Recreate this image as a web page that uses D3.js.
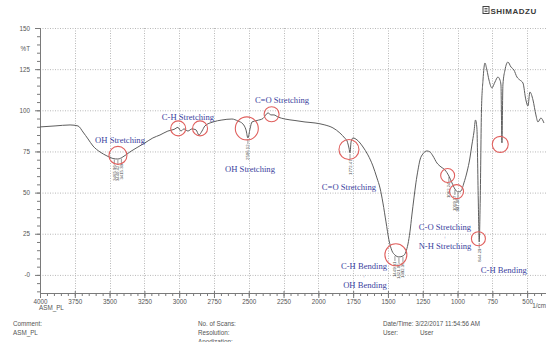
<!DOCTYPE html>
<html>
<head>
<meta charset="utf-8">
<script src="https://cdn.jsdelivr.net/npm/d3@7"></script>
<style>
  html, body { margin: 0; padding: 0; background: #fff; }
  svg { display: block; }
</style>
</head>
<body>
<svg id="chart" width="546" height="342"></svg>
<script>
// FTIR spectrum of sample ASM_PL (wavenumber in 1/cm, transmittance in %T)
const wavenumber = [4000,3892,3784,3727,3691,3655,3619,3569,3519,3476,3440.42,3404,3354,3296,3246,3189,3138,3081,3037,3009,2987,2966,2937,2908,2879,2858,2836,2815,2757,2693,2621,2578,2542,2520,2506.12,2491,2477,2441,2398,2362,2340,2319,2290,2240,2168,2096,2024,1953,1895,1845,1809,1794,1780,1772.47,1765,1751,1722,1679,1644,1608,1579,1557,1536,1514,1493,1471,1449.81,1421.05,1392.36,1371,1356,1342,1328,1313,1299,1284,1270,1249,1220,1198,1177,1148,1119,1091,1062.24,1040,1019.17,997.08,975,954,932,911,897,882,871,861,851,844.29,837,828,817,803,789,774,753,731,710,695,688,681,674,659,638,616,595,573,552,530,509,494,480,458,437,422,401,379];
const transmittance = [89.9,90.5,91.1,90.5,86.8,82.6,78.3,74.7,72.3,70.7,70.4,71.7,74.7,77.7,80.2,83.2,85.0,87.4,88.4,89.6,87.4,88.7,87.4,88.7,88.1,85.0,87.4,90.5,92.9,94.1,94.7,93.5,91.7,88.1,83.2,88.7,92.9,93.8,95.0,98.4,97.2,97.2,95.9,94.7,93.8,92.9,92.3,91.1,89.3,86.2,83.0,81.4,77.1,74.1,80.8,83.2,82.0,77.7,72.9,66.2,58.9,52.8,43.7,32.2,21.3,14.6,12.1,10.9,11.5,14.0,18.8,26.1,36.4,46.8,55.9,63.8,69.8,73.5,75.3,74.7,72.3,68.0,65.6,63.8,60.1,55.9,52.2,50.4,51.0,55.9,62.5,71.0,78.9,86.8,94.1,89.3,45.5,20.0,45.5,100.2,118.4,128.7,124.5,118.4,113.6,117.2,120.2,118.4,115.4,80.2,115.4,124.5,129.3,126.3,124.5,120.2,118.4,116.6,106.3,102.6,111.1,106.3,97.2,92.9,95.3,92.3];

// Axis ticks
const xTicks = [4000,3750,3500,3250,3000,2750,2500,2250,2000,1750,1500,1250,1000,750,500];
const yTicks = [150,125,100,75,50,25,0];
const yTickLabels = ["150","125","100","75","50","25","-0"];

// Picked peaks (wavenumber printed beside each)
const peakWn = [3465.96,3440.42,3415.39,2506.12,1772.47,1449.81,1421.05,1392.36,1062.24,1019.17,997.08,844.29];

// Highlighted bands (centre wavenumber, centre %T)
const ringWn = [3440,3007,2850,2514,2336,1780,1443,1071,1007,850,693];
const ringT  = [72.6,89,89,89,97.6,76.2,12.2,60.4,50.6,22,79.3];

// Band assignments: text, anchor wavenumber, baseline %T
const noteText = ["OH Stretching","C-H Stretching","OH Stretching","C=O Stretching","C=O Stretching","C-H Bending","+","OH Bending","C-O Stretching","+","N-H Stretching","C-H Bending"];
const noteWn   = [3425,2937,2491,2261,1780,1672,1672,1665,1090,1090,1090,667];
const noteT    = [80.2,94.2,62.5,104.5,51.6,3.6,-1.8,-8.2,27.3,21.8,15.6,1.2];
const noteSmall = [false,false,false,false,false,false,true,false,false,true,false,false];

const ringRadius = [9,7.5,7.5,11.5,7.5,10,11,7,7,7,8];

const svg = d3.select("#chart");
const x = d3.scaleLinear().domain([4000, 350]).range([40, 548]);
const y = d3.scaleLinear().domain([-11, 150]).range([293, 28]);

const gridColor = "#b8b8b8";
const axisColor = "#7a7a7a";
const tickFont = "'Liberation Sans', Arial, sans-serif";

// Grid
svg.append("g").selectAll("line").data(yTicks).join("line")
  .attr("x1", 40).attr("x2", 546)
  .attr("y1", d => y(d) + 0.5).attr("y2", d => y(d) + 0.5)
  .attr("stroke", gridColor).attr("stroke-width", 1).attr("stroke-dasharray", "1,1.5");
svg.append("g").selectAll("line").data(xTicks.filter(d => d !== 4000)).join("line")
  .attr("x1", d => Math.round(x(d)) + 0.5).attr("x2", d => Math.round(x(d)) + 0.5)
  .attr("y1", y(150)).attr("y2", y(-11))
  .attr("stroke", gridColor).attr("stroke-width", 1).attr("stroke-dasharray", "1,1.5");

// Axes
const xAxis = d3.axisBottom(x).tickValues(d3.range(4000, 349, -50)).tickSize(3).tickFormat("");
const gx = svg.append("g").attr("transform", `translate(0,${y(-11)})`).call(xAxis);
gx.select(".domain").attr("stroke", axisColor).attr("d", `M40,0.5H546`);
gx.selectAll(".tick line").attr("stroke", axisColor);
const gxMajor = svg.append("g").attr("transform", `translate(0,${y(-11)})`)
  .call(d3.axisBottom(x).tickValues(xTicks).tickSize(5).tickFormat(d3.format("d")));
gxMajor.select(".domain").remove();
gxMajor.selectAll(".tick line").attr("stroke", axisColor).attr("y1", -2);
gxMajor.selectAll(".tick text").attr("fill", "#555").attr("font-size", "6.3px")
  .attr("font-family", tickFont).attr("y", 7);

const yAxis = d3.axisLeft(y).tickValues(d3.range(-10, 151, 5)).tickSize(3).tickFormat("");
const gy = svg.append("g").attr("transform", "translate(40,0)").call(yAxis);
gy.select(".domain").attr("stroke", axisColor).attr("d", `M0.5,${y(150)}V${y(-11)}`);
gy.selectAll(".tick line").attr("stroke", axisColor);
const gyMajor = svg.append("g").attr("transform", "translate(40,0)")
  .call(d3.axisLeft(y).tickValues(yTicks).tickSize(5).tickFormat((d, i) => yTickLabels[i]));
gyMajor.select(".domain").remove();
gyMajor.selectAll(".tick line").attr("stroke", axisColor);
gyMajor.selectAll(".tick text").attr("fill", "#555").attr("font-size", "6.3px")
  .attr("font-family", tickFont).attr("x", -10);

// Axis titles
const small = (t, px, py, anchor) => svg.append("text").text(t)
  .attr("x", px).attr("y", py).attr("text-anchor", anchor || "start")
  .attr("font-family", tickFont).attr("font-size", "6.3px").attr("fill", "#555");
small("%T", 30, 51, "end");
small("ASM_PL", 39, 310);
small("1/cm", 546, 308, "end");

// Spectrum
const pts = wavenumber.map((w, i) => [w, transmittance[i]]);
svg.append("path").datum(pts)
  .attr("fill", "none").attr("stroke", "#5e5e5e").attr("stroke-width", 1)
  .attr("d", d3.line().x(d => x(d[0])).y(d => y(d[1])).curve(d3.curveMonotoneX));

// %T on the trace at a given wavenumber
function traceAt(w) {
  for (let i = 0; i < wavenumber.length - 1; i++) {
    const a = wavenumber[i], b = wavenumber[i + 1];
    if (w <= a && w >= b) {
      const t = (a - w) / (a - b);
      return transmittance[i] + t * (transmittance[i + 1] - transmittance[i]);
    }
  }
  return transmittance[transmittance.length - 1];
}

// Peak picks: leader line and rotated value
const pk = svg.append("g");
peakWn.forEach(w => {
  const px = x(w), py = y(traceAt(w));
  pk.append("line").attr("x1", px).attr("x2", px).attr("y1", py + 1).attr("y2", py + 6)
    .attr("stroke", "#555").attr("stroke-width", 0.6);
  pk.append("text").text(w.toFixed(2))
    .attr("transform", `translate(${px},${py + 6.5}) rotate(-90)`)
    .attr("text-anchor", "end").attr("dy", "0.35em")
    .attr("font-family", tickFont).attr("font-size", "4.3px").attr("fill", "#444");
});

// Band rings
svg.append("g").selectAll("circle").data(ringWn).join("circle")
  .attr("cx", d => x(d)).attr("cy", (d, i) => y(ringT[i])).attr("r", (d, i) => ringRadius[i])
  .attr("fill", "none").attr("stroke", "#e0605e").attr("stroke-width", 1.1);

// Band assignment labels
svg.append("g").selectAll("text").data(noteText).join("text")
  .text(d => d)
  .attr("x", (d, i) => x(noteWn[i])).attr("y", (d, i) => y(noteT[i]))
  .attr("text-anchor", "middle")
  .attr("font-family", "'Liberation Serif', 'Times New Roman', serif")
  .attr("font-size", (d, i) => noteSmall[i] ? "5px" : "8.6px").attr("fill", "#3b3f9e");

// Logo
const logo = svg.append("g").attr("transform", "translate(483,6)");
logo.append("rect").attr("x", 0).attr("y", 0.5).attr("width", 6).attr("height", 7)
  .attr("fill", "none").attr("stroke", "#444").attr("stroke-width", 1);
logo.append("path").attr("d", "M1.5,2.5H4.5M1.5,4H4.5M1.5,5.5H4.5").attr("stroke", "#444").attr("stroke-width", 0.8);
logo.append("text").text("SHIMADZU").attr("x", 7.5).attr("y", 7.5)
  .attr("font-family", tickFont).attr("font-weight", "bold").attr("font-size", "8px")
  .attr("letter-spacing", "0.5px").attr("fill", "#3a3a3a");

// Measurement info
small("Comment:", 13, 326);
small("ASM_PL", 13, 335);
small("No. of Scans:", 198, 326);
small("Resolution:", 198, 335);
small("Apodization:", 198, 344);
small("Date/Time: 3/22/2017 11:54:56 AM", 383, 326);
small("User:", 383, 335);
small("User", 420, 335);
</script>
</body>
</html>
